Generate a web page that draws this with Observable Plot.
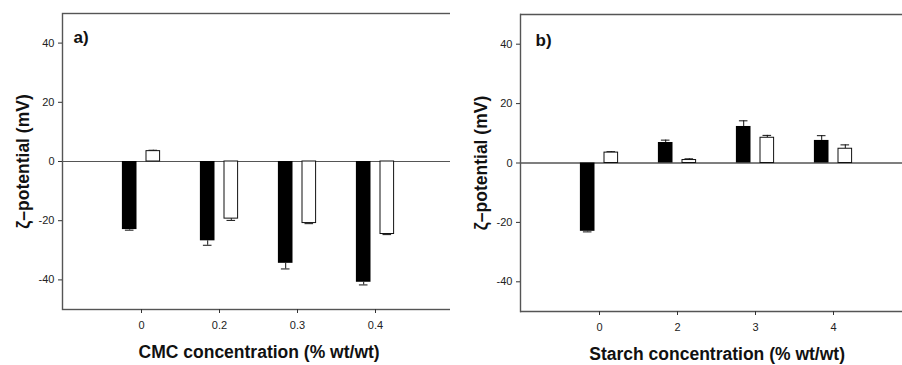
<!DOCTYPE html>
<html>
<head>
<meta charset="utf-8">
<script src="https://cdn.jsdelivr.net/npm/d3@7"></script>
<script src="https://cdn.jsdelivr.net/npm/@observablehq/plot@0.6"></script>
<style>
  html, body { margin: 0; padding: 0; background: white; overflow: hidden; }
  #wrap { position: relative; width: 902px; height: 365px; overflow: hidden; }
  #panelA { position: absolute; left: 0; top: 0; width: 460px; }
  #panelB { position: absolute; left: 450px; top: 0; width: 452px; }
  #wrap svg { max-width: none !important; }
</style>
</head>
<body>
<div id="wrap">
  <div id="panelA"></div>
  <div id="panelB"></div>
</div>
<script>
// Zeta potential (mV) of the two dispersions at each thickener level
const cmcLabels = ["0", "0.2", "0.3", "0.4"];
const cmcFilled = [-23.0, -26.8, -34.4, -40.8];
const cmcFilledErr = [0.2, 1.5, 1.9, 0.9];
const cmcOpen = [3.5, -19.3, -20.8, -24.5];
const cmcOpenErr = [0.3, 0.6, 0.2, 0.2];

const starchLabels = ["0", "2", "3", "4"];
const starchFilled = [-23.0, 6.9, 12.3, 7.6];
const starchFilledErr = [0.2, 0.8, 1.9, 1.6];
const starchOpen = [3.5, 1.0, 8.5, 4.8];
const starchOpenErr = [0.3, 0.4, 0.8, 1.3];

const yTicks = [-40, -20, 0, 20, 40];
const font = "'Liberation Sans', Arial, Helvetica, sans-serif";

function rows(labels, values, errs) {
  return labels.map((c, i) => ({
    cat: c,
    value: values[i],
    // error bar drawn outward from the bar end
    end: values[i] + Math.sign(values[i]) * errs[i]
  }));
}

// plotRight: right edge of the plotting area; it may lie past the SVG edge,
// in which case the panel runs off the page and its right side is not drawn
function panel({labels, filled, filledErr, open, openErr, width, marginLeft, plotRight, marginTop, marginBottom, xTitle, tag, tagDx, tagDy, zeroColor}) {
  const black = rows(labels, filled, filledErr);
  const white = rows(labels, open, openErr);
  const step = (plotRight - marginLeft) / (labels.length + 1);
  const barInset = (step - 15) / 2;
  const capInset = (step - 9) / 2;
  const off = 11.8;
  const openRight = plotRight > width;
  const frameMarks = openRight
    ? [Plot.ruleY([-50, 50], {stroke: "#555", strokeWidth: 1.4}), Plot.frame({anchor: "left", stroke: "#555", strokeWidth: 1.4})]
    : [Plot.frame({stroke: "#555", strokeWidth: 1.4})];
  return Plot.plot({
    width,
    height: 365,
    marginLeft, marginRight: openRight ? 0 : width - plotRight, marginTop, marginBottom,
    style: {fontFamily: font, fontSize: "11px", color: "#222", background: "white", maxWidth: "none"},
    x: {domain: labels, range: [marginLeft, plotRight], paddingInner: 0, paddingOuter: 0.5, label: null},
    y: {domain: [-50, 50], label: null},
    marks: [
      Plot.ruleY([0], {stroke: zeroColor, strokeWidth: 1.2}),
      // error bars
      Plot.ruleX(black, {x: "cat", y1: "value", y2: "end", dx: -off, stroke: "#111", strokeWidth: 1}),
      Plot.tickY(black, {x: "cat", y: "end", dx: -off, insetLeft: capInset, insetRight: capInset, stroke: "#111", strokeWidth: 1}),
      Plot.ruleX(white, {x: "cat", y1: "value", y2: "end", dx: off, stroke: "#111", strokeWidth: 1}),
      Plot.tickY(white, {x: "cat", y: "end", dx: off, insetLeft: capInset, insetRight: capInset, stroke: "#111", strokeWidth: 1}),
      // bars
      Plot.barY(black, {x: "cat", y: "value", dx: -off, insetLeft: barInset, insetRight: barInset, fill: "black"}),
      Plot.barY(white, {x: "cat", y: "value", dx: off, insetLeft: barInset + 0.5, insetRight: barInset + 0.5, fill: "white", stroke: "#111", strokeWidth: 1}),
      ...frameMarks,
      Plot.axisY({ticks: yTicks, tickFormat: d => String(d), tickSize: 4, tickPadding: 4, fontSize: 11, label: null, stroke: "#333"}),
      Plot.axisX({tickSize: 4, tickPadding: 8, fontSize: 11, label: null, stroke: "#333"}),
      Plot.text(["ζ–potential (mV)"], {text: d => d, frameAnchor: "left", textAnchor: "middle", lineAnchor: "middle", dx: -39, rotate: -90, fontSize: 17.5, fontWeight: "bold", fill: "#111"}),
      Plot.text([xTitle], {text: d => d, x: () => labels[0], frameAnchor: "bottom", textAnchor: "middle", lineAnchor: "middle", dx: (plotRight - marginLeft) / 2 - step, dy: 43, fontSize: 17.5, fontWeight: "bold", fill: "#111"}),
      Plot.text([tag], {text: d => d, frameAnchor: "top-left", textAnchor: "start", lineAnchor: "middle", dx: tagDx, dy: tagDy, fontSize: 17, fontWeight: "bold", fill: "#111"})
    ]
  });
}

document.getElementById("panelA").append(panel({
  labels: cmcLabels, filled: cmcFilled, filledErr: cmcFilledErr, open: cmcOpen, openErr: cmcOpenErr,
  width: 460, marginLeft: 62, plotRight: 454, marginTop: 13, marginBottom: 56,
  xTitle: "CMC concentration (% wt/wt)", tag: "a)", tagDx: 11, tagDy: 24, zeroColor: "#555"
}));

document.getElementById("panelB").append(panel({
  labels: starchLabels, filled: starchFilled, filledErr: starchFilledErr, open: starchOpen, openErr: starchOpenErr,
  width: 452, marginLeft: 70, plotRight: 462, marginTop: 14, marginBottom: 54,
  xTitle: "Starch concentration (% wt/wt)", tag: "b)", tagDx: 15, tagDy: 26, zeroColor: "#000"
}));
</script>
</body>
</html>
